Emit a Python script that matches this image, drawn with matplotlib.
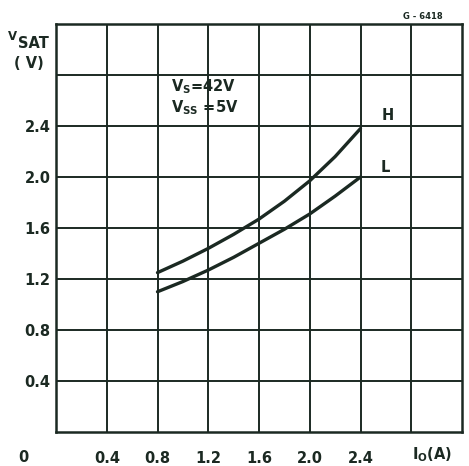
import matplotlib
matplotlib.use("Agg")
import matplotlib.pyplot as plt

# values (Io in A, Vsat in V)
io = [0.8, 1.0, 1.2, 1.4, 1.6, 1.8, 2.0, 2.2, 2.4]
vsat_h = [1.25, 1.34, 1.44, 1.55, 1.67, 1.81, 1.97, 2.16, 2.38]
vsat_l = [1.10, 1.18, 1.27, 1.37, 1.48, 1.59, 1.71, 1.85, 2.00]

x_ticks = [0.4, 0.8, 1.2, 1.6, 2.0, 2.4]
x_labels = ["0.4", "0.8", "1.2", "1.6", "2.0", "2.4"]
y_ticks = [0.4, 0.8, 1.2, 1.6, 2.0, 2.4]
y_labels = ["0.4", "0.8", "1.2", "1.6", "2.0", "2.4"]

ink = "#1b2922"
plt.rcParams["font.family"] = "DejaVu Sans"
plt.rcParams["font.weight"] = "bold"

fig = plt.figure(figsize=(4.69, 4.66), dpi=100)
ax = fig.add_axes([56 / 469, 34 / 466, 406 / 469, 408 / 466])

ax.set_xlim(0, 3.2)
ax.set_ylim(0, 3.2)

# grid every 0.4 in both directions
for v in [0.4 * i for i in range(1, 8)]:
    ax.axvline(v, color=ink, lw=1.4)
    ax.axhline(v, color=ink, lw=1.4)
for s in ax.spines.values():
    s.set_color(ink)
    s.set_linewidth(1.8)

ax.plot(io, vsat_h, color=ink, lw=2.4, solid_capstyle="round")
ax.plot(io, vsat_l, color=ink, lw=2.4, solid_capstyle="round")

ax.set_xticks(x_ticks)
ax.set_xticklabels(x_labels)
ax.set_yticks(y_ticks)
ax.set_yticklabels(y_labels)
ax.tick_params(length=0, labelsize=10.5, colors=ink)
ax.tick_params(axis="x", pad=14)
ax.tick_params(axis="y", pad=4)

fs = 10.5
ax.text(2.57, 2.45, "H", fontsize=fs, fontweight="bold", color=ink)
ax.text(2.56, 2.04, "L", fontsize=fs, fontweight="bold", color=ink)
ax.text(0.91, 2.67, r"V$_\mathbf{S}$=42V", fontsize=fs, color=ink)
ax.text(0.91, 2.51, r"V$_\mathbf{SS}$ =5V", fontsize=fs, color=ink)

# axis titles and origin, placed in figure pixels
fig.text(8 / 469, 1 - 40 / 466, "V", fontsize=8.5, color=ink)
fig.text(18 / 469, 1 - 48 / 466, "SAT", fontsize=fs, color=ink)
fig.text(14 / 469, 1 - 68 / 466, "( V)", fontsize=fs, color=ink)
fig.text(23 / 469, 1 - 462 / 466, "0", fontsize=fs, color=ink, ha="center")
fig.text(432 / 469, 1 - 459 / 466, r"I$_\mathbf{O}$(A)", fontsize=fs, color=ink, ha="center")
fig.text(423 / 469, 1 - 19 / 466, "G - 6418", fontsize=6, color=ink, ha="center")

fig.savefig("out.png", dpi=100, facecolor="white")
